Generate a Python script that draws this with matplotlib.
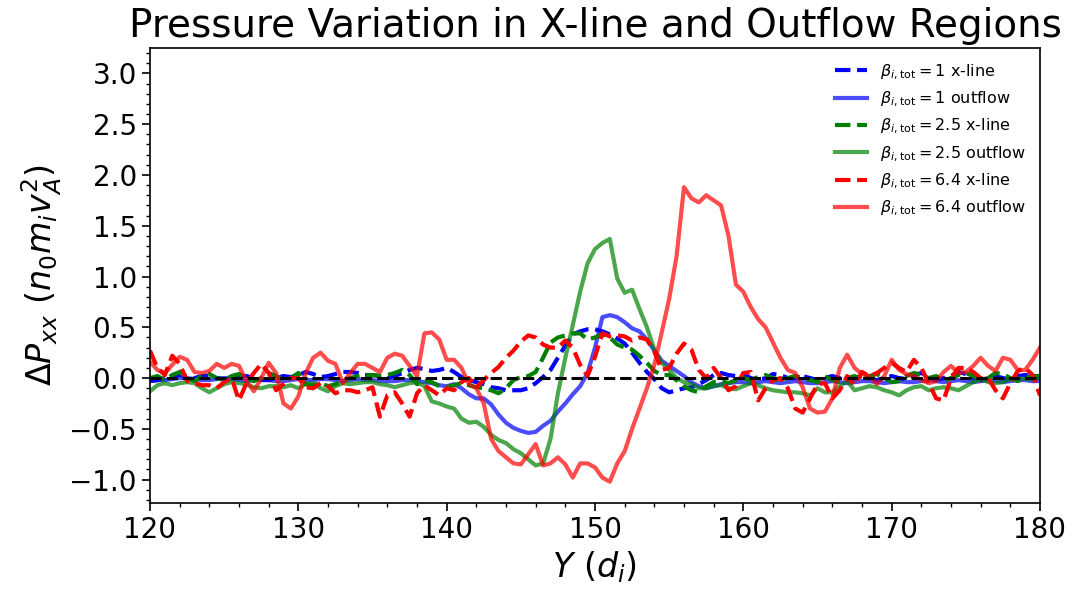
import numpy as np
import matplotlib
matplotlib.use("Agg")
import matplotlib.pyplot as plt
from matplotlib.ticker import MultipleLocator

y_pos = np.arange(120, 180.01, 0.5)

b1_xline = [-0.03, -0.02, 0.0, 0.02, 0.03, 0.02, 0.0, 0.02, 0.02, 0.0,
            -0.01, 0.0, 0.01, 0.02, 0.0, -0.02, -0.02, 0.0, 0.02, 0.01,
            0.03, 0.06, 0.04, 0.01, 0.02, 0.04, 0.06, 0.06, 0.05, 0.03,
            0.03, 0.02, 0.0, 0.02, 0.05, 0.08, 0.10, 0.09, 0.07, 0.08,
            0.10, 0.06, 0.01, -0.02, -0.04, -0.06, -0.09, -0.10, -0.12, -0.12,
            -0.12, -0.10, -0.05, 0.01, 0.08, 0.20, 0.32, 0.43, 0.46, 0.48,
            0.48, 0.46, 0.43, 0.39, 0.34, 0.25, 0.15, 0.06, -0.01, -0.10,
            -0.14, -0.12, -0.10, -0.09, -0.06, -0.02, 0.03, 0.05, 0.03, 0.02,
            0.04, 0.0, -0.02, 0.0, 0.04, 0.03, 0.0, 0.0, 0.02, 0.0,
            -0.02, 0.0, 0.02, 0.0, -0.02, 0.0, 0.02, 0.0, -0.02, 0.0,
            0.02, 0.0, -0.01, 0.03, 0.05, 0.02, -0.02, 0.0, 0.02, 0.06,
            0.04, 0.0, -0.02, 0.0, 0.02, 0.0, -0.02, 0.02, 0.03, 0.02,
            0.0]

b1_outflow = [-0.03, -0.02, -0.02, -0.01, 0.0, 0.0, -0.01, -0.02, -0.02, -0.01,
              0.0, -0.01, -0.02, -0.03, -0.02, -0.01, -0.02, -0.03, -0.03, -0.02,
              -0.01, -0.02, -0.02, -0.01, -0.01, -0.02, -0.03, -0.02, -0.01, -0.02,
              -0.02, -0.03, -0.03, -0.03, -0.02, -0.02, -0.03, -0.04, -0.05, -0.07,
              -0.08, -0.06, -0.10, -0.16, -0.20, -0.20, -0.26, -0.36, -0.44, -0.49,
              -0.52, -0.54, -0.53, -0.47, -0.42, -0.33, -0.25, -0.16, -0.08, 0.05,
              0.30, 0.60, 0.62, 0.60, 0.55, 0.49, 0.46, 0.38, 0.27, 0.17,
              0.12, 0.07, 0.02, -0.04, -0.08, -0.10, -0.08, -0.06, -0.05, -0.04,
              -0.04, -0.05, -0.04, -0.03, -0.04, -0.05, -0.04, -0.03, -0.04, -0.05,
              -0.05, -0.04, -0.03, -0.04, -0.05, -0.04, -0.03, -0.03, -0.04, -0.05,
              -0.04, -0.03, -0.04, -0.04, -0.03, -0.02, -0.03, -0.04, -0.03, -0.02,
              -0.03, -0.04, -0.03, -0.02, -0.03, -0.04, -0.03, -0.02, -0.02, -0.03,
              -0.03]

b25_xline = [0.0, 0.02, -0.02, 0.03, 0.06, 0.0, -0.03, 0.02, 0.04, 0.0,
             -0.02, 0.02, 0.04, 0.0, -0.03, 0.0, 0.05, 0.02, -0.02, 0.0,
             0.05, -0.06, -0.07, -0.05, -0.08, -0.06, -0.03, 0.0, 0.02, 0.03,
             0.03, 0.02, 0.03, 0.05, 0.08, 0.03, -0.06, -0.03, -0.04, -0.08,
             -0.09, -0.07, -0.05, -0.07, -0.09, -0.10, -0.12, -0.15, -0.10, -0.02,
             0.01, 0.02, 0.06, 0.20, 0.35, 0.40, 0.42, 0.44, 0.44, 0.38,
             0.40, 0.43, 0.40, 0.33, 0.30, 0.28, 0.22, 0.15, 0.07, 0.03,
             0.03, -0.02, -0.08, -0.12, -0.14, -0.08, -0.04, -0.03, -0.05, -0.02,
             0.0, -0.02, 0.01, 0.03, 0.0, -0.03, 0.0, 0.02, 0.0, -0.02,
             -0.04, 0.02, -0.02, -0.04, 0.0, 0.02, -0.02, 0.02, 0.04, 0.0,
             -0.04, -0.03, 0.02, 0.05, 0.03, 0.0, 0.02, -0.03, 0.0, 0.03,
             0.05, 0.02, -0.03, 0.0, 0.05, 0.04, 0.0, -0.03, 0.0, 0.02,
             0.02]

b25_outflow = [-0.13, -0.07, -0.05, -0.07, -0.05, -0.04, -0.05, -0.10, -0.14, -0.10,
               -0.06, -0.04, -0.05, -0.06, -0.09, -0.10, -0.08, -0.08, -0.09, -0.07,
               -0.10, -0.06, -0.05, -0.10, -0.13, -0.08, -0.05, -0.06, -0.05, -0.04,
               -0.04, -0.06, -0.07, -0.09, -0.07, -0.05, -0.04, -0.08, -0.23, -0.25,
               -0.28, -0.30, -0.40, -0.44, -0.43, -0.48, -0.56, -0.61, -0.64, -0.70,
               -0.74, -0.80, -0.86, -0.84, -0.60, -0.15, 0.20, 0.52, 0.85, 1.13,
               1.27, 1.33, 1.37, 0.98, 0.84, 0.87, 0.68, 0.50, 0.28, 0.15,
               0.08, 0.0, -0.04, -0.06, -0.10, -0.10, -0.08, -0.07, -0.10, -0.11,
               -0.08, -0.05, -0.07, -0.10, -0.12, -0.13, -0.14, -0.14, -0.15, -0.17,
               -0.10, -0.14, -0.14, -0.08, -0.03, -0.12, -0.10, -0.08, -0.09, -0.12,
               -0.14, -0.17, -0.12, -0.09, -0.08, -0.12, -0.10, -0.09, -0.10, -0.12,
               -0.08, -0.04, -0.01, -0.04, -0.05, -0.04, -0.01, 0.0, -0.01, -0.01,
               0.0]

b64_xline = [0.27, 0.10, 0.03, 0.22, 0.14, -0.03, -0.05, -0.07, -0.07, -0.10,
             -0.04, 0.0, -0.22, -0.05, 0.05, 0.14, 0.05, -0.12, -0.06, 0.0,
             0.0, -0.09, -0.10, -0.05, -0.08, -0.15, -0.12, -0.12, -0.14, -0.12,
             -0.09, -0.38, -0.17, -0.14, -0.25, -0.38, -0.15, -0.07, -0.12, -0.17,
             -0.10, -0.12, -0.04, 0.0, -0.09, -0.02, 0.05, 0.11, 0.20, 0.27,
             0.36, 0.42, 0.40, 0.33, 0.30, 0.30, 0.37, 0.30, 0.13, 0.02,
             0.21, 0.44, 0.41, 0.42, 0.41, 0.37, 0.40, 0.38, 0.26, 0.08,
             0.10, 0.24, 0.34, 0.28, 0.08, 0.0, 0.10, 0.0, -0.12, -0.08,
             0.05, 0.06, -0.22, -0.10, -0.02, 0.0, -0.10, -0.30, -0.34, -0.20,
             -0.06, -0.05, -0.20, -0.12, 0.02, -0.07, 0.06, 0.02, 0.05, 0.10,
             0.15, 0.10, 0.06, 0.18, 0.10, -0.05, -0.20, -0.22, 0.0, 0.10,
             0.10, 0.06, 0.0, 0.0, -0.12, -0.20, -0.05, 0.07, 0.10, 0.03,
             -0.17]

b64_outflow = [0.16, 0.08, 0.05, 0.13, 0.21, 0.18, 0.06, 0.05, 0.07, 0.14,
               0.10, 0.14, 0.12, -0.03, -0.13, 0.0, 0.15, 0.05, -0.25, -0.30,
               -0.18, 0.05, 0.20, 0.25, 0.17, 0.14, -0.05, 0.05, 0.14, 0.14,
               0.10, 0.06, 0.20, 0.24, 0.22, 0.12, 0.02, 0.44, 0.45, 0.38,
               0.18, 0.18, 0.10, -0.06, -0.10, -0.25, -0.60, -0.72, -0.78, -0.84,
               -0.85, -0.75, -0.65, -0.86, -0.84, -0.78, -0.85, -0.98, -0.84, -0.84,
               -0.88, -0.98, -1.02, -0.84, -0.72, -0.50, -0.30, -0.10, 0.13, 0.45,
               0.78, 1.20, 1.88, 1.77, 1.73, 1.80, 1.75, 1.70, 1.40, 0.92,
               0.85, 0.70, 0.58, 0.50, 0.35, 0.20, 0.08, 0.05, -0.09, -0.30,
               -0.34, -0.33, -0.20, 0.10, 0.23, 0.10, 0.04, 0.02, -0.06, 0.02,
               0.18, 0.08, 0.04, 0.02, -0.02, -0.05, -0.03, 0.06, 0.12, 0.05,
               0.06, 0.12, 0.20, 0.12, 0.07, 0.20, 0.18, 0.08, 0.08, 0.18,
               0.30]

labels = [r'$\beta_{i,\mathrm{tot}} = 1$ x-line',
          r'$\beta_{i,\mathrm{tot}} = 1$ outflow',
          r'$\beta_{i,\mathrm{tot}} = 2.5$ x-line',
          r'$\beta_{i,\mathrm{tot}} = 2.5$ outflow',
          r'$\beta_{i,\mathrm{tot}} = 6.4$ x-line',
          r'$\beta_{i,\mathrm{tot}} = 6.4$ outflow']

fig = plt.figure(figsize=(10.73, 5.89), dpi=100)
ax = fig.add_axes([150/1073, 1 - 503/589, 890/1073, 455/589])

series = [(b1_xline, 'blue', '--', 1.0), (b1_outflow, 'blue', '-', 0.7),
          (b25_xline, 'green', '--', 1.0), (b25_outflow, 'green', '-', 0.7),
          (b64_xline, 'red', '--', 1.0), (b64_outflow, 'red', '-', 0.7)]
for (vals, c, ls, a), lab in zip(series, labels):
    ax.plot(y_pos, vals, color=c, linestyle=ls, alpha=a, linewidth=3, label=lab)

ax.axhline(0, color='black', linestyle='--', linewidth=2.2)

ax.set_xlim(120, 180)
ax.set_ylim(-1.23, 3.25)
ax.xaxis.set_major_locator(MultipleLocator(10))
ax.xaxis.set_minor_locator(MultipleLocator(2))
ax.yaxis.set_major_locator(MultipleLocator(0.5))
ax.yaxis.set_minor_locator(MultipleLocator(0.1))
ax.tick_params(which='major', labelsize=20, length=6, width=1.2)
ax.tick_params(which='minor', length=3, width=1.0)
for s in ax.spines.values():
    s.set_linewidth(1.2)

ax.set_title('Pressure Variation in X-line and Outflow Regions', fontsize=28, pad=8)
ax.set_xlabel(r'$Y\ (d_i)$', fontsize=24)
ax.set_ylabel(r'$\Delta P_{xx}\ (n_0 m_i v_A^2)$', fontsize=24)
ax.legend(loc='upper right', fontsize=11.5, frameon=False)

fig.savefig('out.png', dpi=100)
